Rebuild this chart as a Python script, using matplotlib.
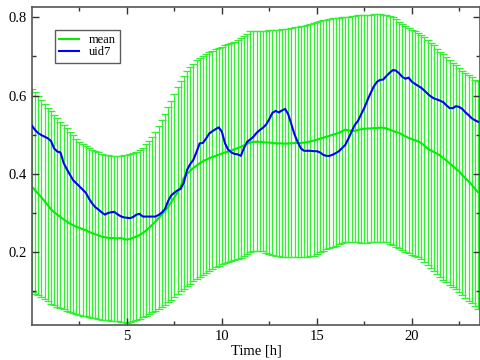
import numpy as np
import matplotlib
matplotlib.use("Agg")
import matplotlib.pyplot as plt

plt.rcParams["font.family"] = ["Liberation Serif", "DejaVu Serif"]

# samples every 10 minutes, 0 .. 23.5 h
step_h = 1 / 6

mean = [
    0.367, 0.358, 0.349, 0.340, 0.330, 0.320,
    0.310, 0.302, 0.296, 0.290, 0.284, 0.278,
    0.273, 0.269, 0.265, 0.262, 0.259, 0.256,
    0.252, 0.249, 0.246, 0.243, 0.240, 0.238,
    0.237, 0.236, 0.236, 0.235, 0.236, 0.234,
    0.232, 0.234, 0.237, 0.240, 0.244, 0.249,
    0.255, 0.262, 0.270, 0.278, 0.287, 0.296,
    0.305, 0.315, 0.328, 0.340, 0.352, 0.368,
    0.390, 0.400, 0.408, 0.415, 0.421, 0.427,
    0.432, 0.436, 0.440, 0.443, 0.446, 0.449,
    0.452, 0.455, 0.457, 0.460, 0.463, 0.466,
    0.469, 0.473, 0.477, 0.480, 0.482, 0.482,
    0.482, 0.481, 0.480, 0.480, 0.479, 0.478,
    0.478, 0.478, 0.477, 0.478, 0.478, 0.479,
    0.479, 0.479, 0.480, 0.481, 0.483, 0.485,
    0.487, 0.490, 0.492, 0.495, 0.497, 0.500,
    0.502, 0.505, 0.509, 0.513, 0.511, 0.510,
    0.510, 0.512, 0.514, 0.515, 0.516, 0.516,
    0.517, 0.517, 0.518, 0.518, 0.516, 0.513,
    0.510, 0.507, 0.505, 0.500, 0.496, 0.492,
    0.489, 0.486, 0.483, 0.479, 0.472, 0.465,
    0.460, 0.456, 0.452, 0.447, 0.440, 0.434,
    0.427, 0.420, 0.413, 0.406, 0.397, 0.389,
    0.381, 0.372, 0.362, 0.353,
]

# top / bottom of the error bars
upper = [
    0.618, 0.608, 0.598, 0.588, 0.578, 0.569,
    0.560, 0.551, 0.542, 0.533, 0.525, 0.516,
    0.508, 0.499, 0.490, 0.482, 0.476, 0.470,
    0.466, 0.462, 0.458, 0.455, 0.452, 0.449,
    0.447, 0.446, 0.446, 0.446, 0.446, 0.447,
    0.448, 0.450, 0.453, 0.457, 0.461, 0.467,
    0.476, 0.484, 0.493, 0.508, 0.523, 0.537,
    0.553, 0.570, 0.587, 0.605, 0.622, 0.637,
    0.650, 0.663, 0.672, 0.681, 0.690, 0.697,
    0.702, 0.707, 0.711, 0.715, 0.719, 0.722,
    0.725, 0.728, 0.731, 0.734, 0.737, 0.742,
    0.747, 0.752, 0.758, 0.764, 0.766, 0.766,
    0.766, 0.766, 0.766, 0.767, 0.767, 0.767,
    0.768, 0.769, 0.770, 0.771, 0.772, 0.774,
    0.775, 0.777, 0.779, 0.781, 0.783, 0.786,
    0.788, 0.790, 0.792, 0.794, 0.796, 0.797,
    0.798, 0.799, 0.800, 0.801, 0.802, 0.803,
    0.804, 0.805, 0.806, 0.806, 0.807, 0.807,
    0.808, 0.808, 0.808, 0.807, 0.806, 0.804,
    0.800, 0.795, 0.789, 0.784, 0.779, 0.773,
    0.768, 0.764, 0.760, 0.755, 0.749, 0.742,
    0.735, 0.728, 0.720, 0.712, 0.705, 0.698,
    0.691, 0.684, 0.677, 0.670, 0.664, 0.658,
    0.652, 0.647, 0.641, 0.636,
]

lower = [
    0.099, 0.094, 0.090, 0.085, 0.080, 0.075,
    0.068, 0.064, 0.060, 0.057, 0.054, 0.051,
    0.048, 0.045, 0.043, 0.040, 0.038, 0.036,
    0.034, 0.033, 0.031, 0.030, 0.028, 0.027,
    0.026, 0.025, 0.024, 0.023, 0.022, 0.021,
    0.020, 0.021, 0.023, 0.026, 0.030, 0.034,
    0.038, 0.042, 0.046, 0.050, 0.055, 0.060,
    0.065, 0.072, 0.079, 0.086, 0.094, 0.101,
    0.107, 0.114, 0.120, 0.126, 0.132, 0.137,
    0.142, 0.147, 0.152, 0.158, 0.162, 0.166,
    0.169, 0.172, 0.175, 0.178, 0.180, 0.182,
    0.186, 0.191, 0.196, 0.201, 0.203, 0.204,
    0.204, 0.202, 0.199, 0.196, 0.193, 0.191,
    0.190, 0.189, 0.189, 0.189, 0.189, 0.189,
    0.189, 0.189, 0.189, 0.189, 0.190, 0.190,
    0.195, 0.200, 0.204, 0.207, 0.211, 0.214,
    0.217, 0.220, 0.223, 0.225, 0.226, 0.226,
    0.225, 0.225, 0.224, 0.224, 0.224, 0.225,
    0.225, 0.226, 0.226, 0.226, 0.225, 0.222,
    0.218, 0.214, 0.211, 0.206, 0.201, 0.197,
    0.193, 0.190, 0.187, 0.183, 0.175, 0.167,
    0.159, 0.152, 0.145, 0.137, 0.130, 0.123,
    0.116, 0.111, 0.105, 0.099, 0.091, 0.083,
    0.076, 0.069, 0.062, 0.055,
]

uid7 = [
    0.523, 0.512, 0.504, 0.499, 0.495, 0.491,
    0.484, 0.465, 0.457, 0.455, 0.428, 0.412,
    0.398, 0.384, 0.376, 0.368, 0.360, 0.352,
    0.337, 0.325, 0.315, 0.309, 0.302, 0.296,
    0.300, 0.302, 0.303, 0.297, 0.292, 0.289,
    0.288, 0.287, 0.290, 0.296, 0.298, 0.291,
    0.291, 0.291, 0.291, 0.291, 0.295, 0.301,
    0.310, 0.330, 0.345, 0.352, 0.358, 0.362,
    0.378, 0.410, 0.425, 0.436, 0.456, 0.478,
    0.479, 0.490, 0.503, 0.509, 0.514, 0.519,
    0.508, 0.478, 0.462, 0.455, 0.451, 0.450,
    0.446, 0.466, 0.482, 0.488, 0.495, 0.505,
    0.512, 0.518, 0.526, 0.540, 0.556, 0.561,
    0.557, 0.562, 0.566, 0.552, 0.526, 0.500,
    0.481, 0.465, 0.459, 0.459, 0.459, 0.458,
    0.458, 0.455, 0.449, 0.446, 0.446, 0.449,
    0.453, 0.458, 0.466, 0.474, 0.490, 0.508,
    0.525, 0.535, 0.552, 0.568, 0.588, 0.606,
    0.623, 0.635, 0.640, 0.641, 0.650, 0.658,
    0.665, 0.664, 0.657, 0.648, 0.643, 0.646,
    0.636, 0.630, 0.625, 0.620, 0.613, 0.605,
    0.598, 0.593, 0.590, 0.587, 0.583, 0.575,
    0.568, 0.568, 0.573, 0.571, 0.566, 0.557,
    0.550, 0.542, 0.537, 0.533,
]

t = np.arange(len(mean)) * step_h
mean_a = np.array(mean)
yerr = [mean_a - np.array(lower), np.array(upper) - mean_a]

fig = plt.figure(figsize=(4.81, 3.60), dpi=100)
ax = fig.add_axes([0.0665, 0.0964, 0.9315, 0.8833])

ax.errorbar(t, mean, yerr=yerr, fmt="none", ecolor="#33ee33", elinewidth=0.9,
            capsize=3.2, capthick=0.9, zorder=1)
ax.plot(t, mean, color="#00ee00", lw=1.5, label="mean", zorder=2)
ax.plot(t, uid7, color="#0000ff", lw=1.5, label="uid7", zorder=3)

ax.set_xlim(0, 23.6)
ax.set_ylim(0.0133, 0.8255)
ax.set_xticks([5, 10, 15, 20])
ax.set_xticks([2.5, 7.5, 12.5, 17.5, 22.5], minor=True)
ax.set_yticks([0.2, 0.4, 0.6, 0.8])
ax.set_yticks([0.1, 0.3, 0.5, 0.7], minor=True)
ax.set_yticklabels(["0.2", "0.4", "0.6", "0.8"])
ax.tick_params(which="both", direction="in", top=True, right=True,
               labelsize=10.5, color="#333333")
ax.tick_params(which="major", length=5, width=1)
ax.tick_params(which="minor", length=3, width=1)
for sp in ax.spines.values():
    sp.set_color("#555555")
    sp.set_linewidth(1.2)

ax.set_xlabel("Time [h]", fontsize=10.5, labelpad=1)

leg = ax.legend(loc="upper left", bbox_to_anchor=(0.051, 0.929), borderaxespad=0,
                fontsize=9, frameon=True, fancybox=False, handlelength=1.6,
                borderpad=0.35, labelspacing=0.0, handletextpad=0.75)
leg.get_frame().set_edgecolor("#333333")
leg.get_frame().set_linewidth(1.0)

fig.savefig("out.png", dpi=100)
